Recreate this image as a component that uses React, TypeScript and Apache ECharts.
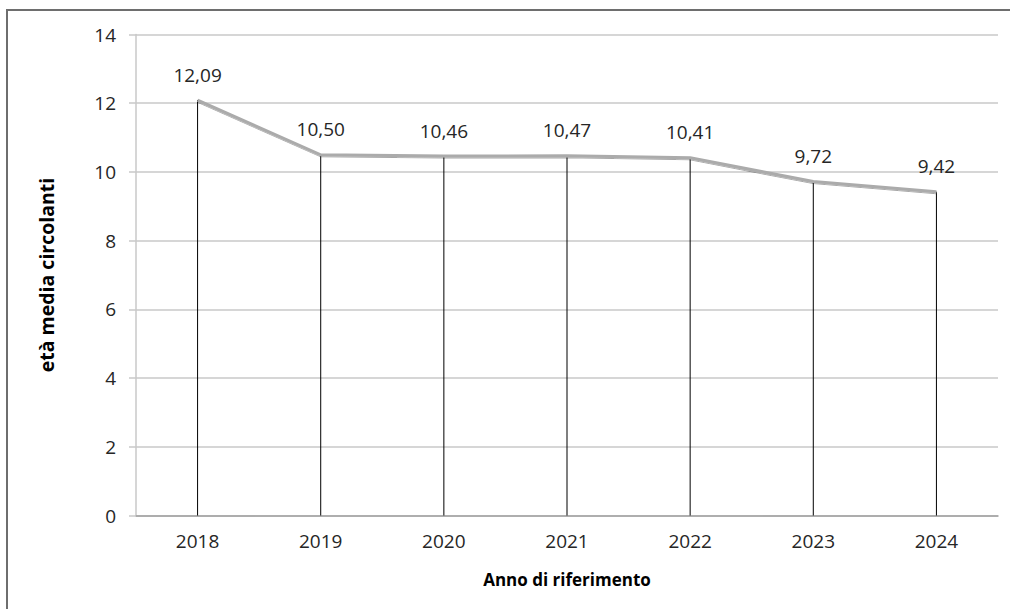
import React, { useEffect, useRef } from "react";
import * as echarts from "echarts";

const years = ["2018", "2019", "2020", "2021", "2022", "2023", "2024"];
const etaMedia = [12.09, 10.5, 10.46, 10.47, 10.41, 9.72, 9.42];
const yMin = 0;
const yMax = 14;
const yStep = 2;

const FONT = "'Open Sans', 'Liberation Sans', sans-serif";

export default function App() {
  const ref = useRef<HTMLDivElement>(null);
  useEffect(() => {
    if (!ref.current) return;
    const chart = echarts.init(ref.current, null, { renderer: "svg" });
    chart.setOption({
      animation: false,
      backgroundColor: "#ffffff",
      textStyle: { fontFamily: FONT },
      grid: { left: 136, right: 12, top: 34.5, bottom: 93.5, containLabel: false },
      graphic: [
        {
          type: "rect",
          shape: { x: 7, y: 10, width: 1100, height: 700 },
          style: { fill: "none", stroke: "#6E6E6E", lineWidth: 2 },
          silent: true,
        },
      ],
      xAxis: {
        type: "category",
        data: years,
        boundaryGap: true,
        axisLine: { show: true, lineStyle: { color: "#A0A0A0", width: 1.5 } },
        axisTick: { show: false },
        axisLabel: { color: "#262626", fontSize: 19, margin: 16, fontFamily: FONT },
        name: "Anno di riferimento",
        nameLocation: "middle",
        nameGap: 55,
        nameTextStyle: { color: "#000000", fontSize: 17, fontWeight: "bold", fontFamily: FONT },
      },
      yAxis: {
        type: "value",
        min: yMin,
        max: yMax,
        interval: yStep,
        axisLine: { show: true, lineStyle: { color: "#C8C8C8", width: 1.5 } },
        axisTick: { show: true, length: 7, lineStyle: { color: "#C8C8C8", width: 1.5 } },
        splitLine: { show: true, lineStyle: { color: "#C8C8C8", width: 1.5 } },
        axisLabel: { color: "#262626", fontSize: 19, margin: 20, fontFamily: FONT },
        name: "età media circolanti",
        nameLocation: "middle",
        nameGap: 80,
        nameRotate: 90,
        nameTextStyle: { color: "#000000", fontSize: 19.5, fontWeight: "bold", fontFamily: FONT },
      },
      series: [
        {
          type: "bar",
          data: etaMedia,
          barWidth: 1,
          itemStyle: { color: "#000000" },
          silent: true,
          z: 2,
          label: {
            show: true,
            position: "top",
            distance: 16,
            color: "#262626",
            fontSize: 19,
            fontFamily: FONT,
            formatter: (p: any) => Number(p.value).toFixed(2).replace(".", ","),
          },
        },
        {
          type: "line",
          data: etaMedia,
          symbol: "none",
          z: 3,
          lineStyle: {
            color: "#ABABAB",
            width: 3,
            shadowColor: "rgba(0,0,0,0.35)",
            shadowBlur: 1,
            shadowOffsetY: 1,
          },
        },
      ],
    });
    return () => chart.dispose();
  }, []);
  return (
    <div
      ref={ref}
      style={{ position: "fixed", left: 0, top: 0, width: 1010, height: 609 }}
    />
  );
}
